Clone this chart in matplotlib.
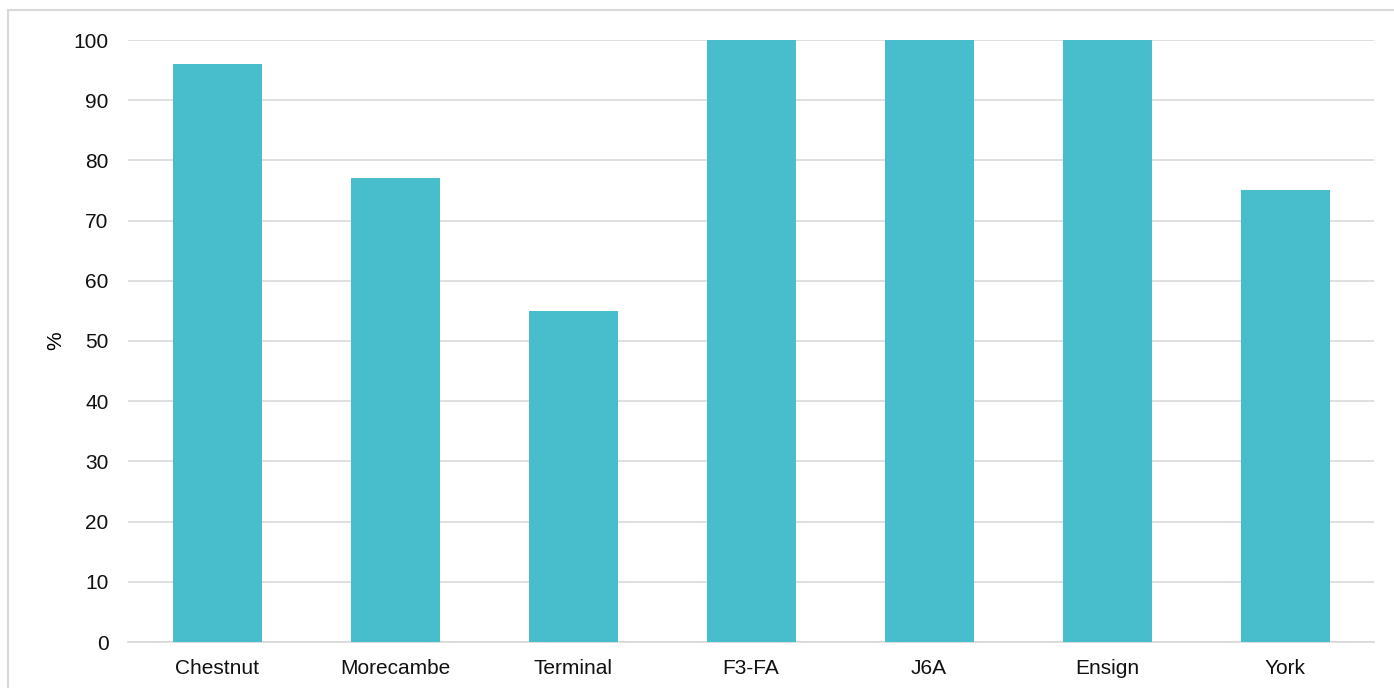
import matplotlib.pyplot as plt
from matplotlib.patches import Rectangle

# values
fields = ["Chestnut", "Morecambe", "Terminal", "F3-FA", "J6A", "Ensign", "York"]
pct = [96, 77, 55, 100, 100, 100, 75]
yticks = list(range(0, 101, 10))

plt.rcParams['font.family'] = ['Liberation Sans', 'DejaVu Sans']

fig = plt.figure(figsize=(13.94, 6.88), dpi=100)
ax = fig.add_axes([128 / 1394, 1 - 642 / 688, 1246 / 1394, 602 / 688])

# light frame around the chart, running off the right and bottom edges
fig.patches.append(Rectangle((8 / 1394, -0.05), 1.1, 1 - 10 / 688 + 0.05,
                             transform=fig.transFigure, fill=False,
                             edgecolor='#d9d9d9', linewidth=1.5))

x = range(len(fields))
ax.bar(x, pct, width=0.5, color='#48bdcb', zorder=3)

ax.set_xlim(-0.5, len(fields) - 0.5)
ax.set_ylim(0, 100)
ax.set_yticks(yticks)
ax.set_xticks(list(x))
ax.set_xticklabels(fields)
ax.grid(axis='y', color='#d9d9d9', linewidth=1.2, zorder=0)
ax.tick_params(axis='both', length=0, labelsize=15, labelcolor='#111111')
ax.tick_params(axis='y', pad=14)
ax.tick_params(axis='x', pad=12)
for s in ['top', 'right', 'left']:
    ax.spines[s].set_visible(False)
ax.spines['bottom'].set_color('#d9d9d9')
ax.spines['bottom'].set_linewidth(1.2)
ax.set_ylabel("%", fontsize=15, labelpad=6)

fig.savefig("out.png", dpi=100)
